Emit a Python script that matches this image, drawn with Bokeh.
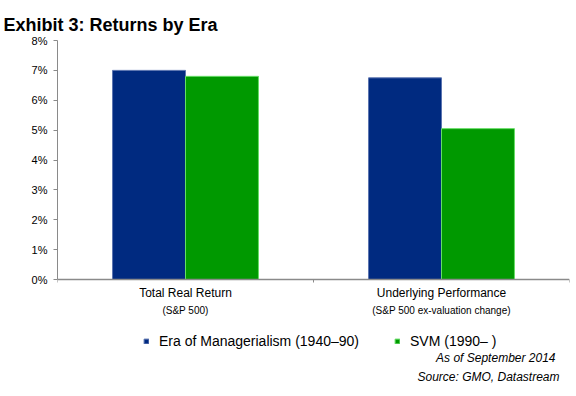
from bokeh.plotting import figure
from bokeh.models import (FixedTicker, Range1d, Legend, LegendItem,
                          ColumnDataSource, CustomJSTickFormatter)
from bokeh.core.properties import value
from bokeh.embed import file_html
from bokeh.resources import INLINE

# ---- data ----
categories = ["Total Real Return", "Underlying Performance"]
subtitles = ["(S&P 500)", "(S&P 500 ex-valuation change)"]
series_names = ["Era of Managerialism (1940\u201390)", "SVM (1990\u2013 )"]
managerialism = [7.0, 6.75]
svm = [6.8, 5.05]
y_ticks = [0, 1, 2, 3, 4, 5, 6, 7, 8]
notes = ["As of September 2014", "Source: GMO, Datastream"]
title_text = "Exhibit 3: Returns by Era"

BLUE = "#002a80"
GREEN = "#009900"
FONT = "Liberation Sans"
GREY = "#8a8a8a"

# layout: the value axis spans 239 px; the frame continues below it so that
# the category labels, legend and notes can be drawn inside the frame
AXIS_H = 239
FRAME_H = 348
ppu = AXIS_H / (y_ticks[-1] - y_ticks[0])
y_min = -(FRAME_H - AXIS_H) / ppu

centers = [i + 0.5 for i in range(len(categories))]
bar_w = 0.285

p = figure(frame_width=512, frame_height=FRAME_H, output_backend="svg",
           toolbar_location=None, x_range=Range1d(0, len(categories)),
           y_range=Range1d(y_min, y_ticks[-1]),
           min_border_left=57, min_border_top=40, min_border_right=5,
           min_border_bottom=0)
p.background_fill_color = "white"
p.border_fill_color = "white"
p.outline_line_color = None
p.xgrid.visible = False
p.ygrid.visible = False

src1 = ColumnDataSource(dict(x=[c - bar_w / 2 for c in centers], top=managerialism))
src2 = ColumnDataSource(dict(x=[c + bar_w / 2 for c in centers], top=svm))
r1 = p.vbar(x="x", top="top", width=bar_w, source=src1, fill_color=BLUE,
            line_color="#5b74b0", line_width=1)
r2 = p.vbar(x="x", top="top", width=bar_w, source=src2, fill_color=GREEN,
            line_color="#66dd66", line_width=1)

# y axis
ya = p.yaxis[0]
ya.ticker = FixedTicker(ticks=y_ticks)
ya.bounds = (y_ticks[0], y_ticks[-1])
ya.formatter = CustomJSTickFormatter(code="return tick.toFixed(0) + '%';")
ya.major_label_text_font = FONT
ya.major_label_text_font_size = "11px"
ya.major_label_text_color = "#000000"
ya.axis_line_color = GREY
ya.major_tick_line_color = GREY
ya.major_tick_out = 4
ya.major_tick_in = 0
ya.minor_tick_line_color = None
ya.major_label_standoff = 6

# x axis at 0: ticks at category boundaries, no labels
xa = p.xaxis[0]
xa.fixed_location = 0
xa.ticker = FixedTicker(ticks=list(range(len(categories) + 1)))
xa.formatter = CustomJSTickFormatter(code="return '';")
xa.major_label_standoff = 0
xa.axis_line_color = GREY
xa.axis_line_width = 1.5
xa.major_tick_line_color = GREY
xa.major_tick_out = 3
xa.major_tick_in = 0
xa.minor_tick_line_color = None

# category labels
p.text(x=centers, y=[-0.45] * len(centers), text=categories,
       text_align="center", text_baseline="middle", text_font=value(FONT),
       text_font_size="12px", text_color="#000000")
p.text(x=centers, y=[-1.05] * len(centers), text=subtitles,
       text_align="center", text_baseline="middle", text_font=value(FONT),
       text_font_size="10px", text_color="#000000")

# source notes
p.text(x=[len(categories)], y=[-2.644], x_offset=-14, text=[notes[0]],
       text_align="right", text_baseline="middle", text_font=value(FONT),
       text_font_style="italic", text_font_size="12px", text_color="#000000")
p.text(x=[len(categories)], y=[-3.28], x_offset=-10, text=[notes[1]],
       text_align="right", text_baseline="middle", text_font=value(FONT),
       text_font_style="italic", text_font_size="12px", text_color="#000000")

# legend
legend = Legend(items=[LegendItem(label=series_names[0], renderers=[r1]),
                       LegendItem(label=series_names[1], renderers=[r2])],
                location=(86, 39), orientation="horizontal",
                glyph_width=6, glyph_height=6, label_standoff=10, spacing=35,
                padding=0, margin=0, label_height=16,
                label_text_font=FONT, label_text_font_size="14px",
                label_text_color="#000000",
                border_line_alpha=0, background_fill_alpha=0)
p.add_layout(legend, "center")

# title
p.title.text = title_text
p.title.text_font = FONT
p.title.text_font_size = "18px"
p.title.text_font_style = "bold"
p.title.text_color = "#000000"
p.title.offset = -54
p.title.standoff = 12

open("out.html", "w").write(file_html(p, INLINE))
